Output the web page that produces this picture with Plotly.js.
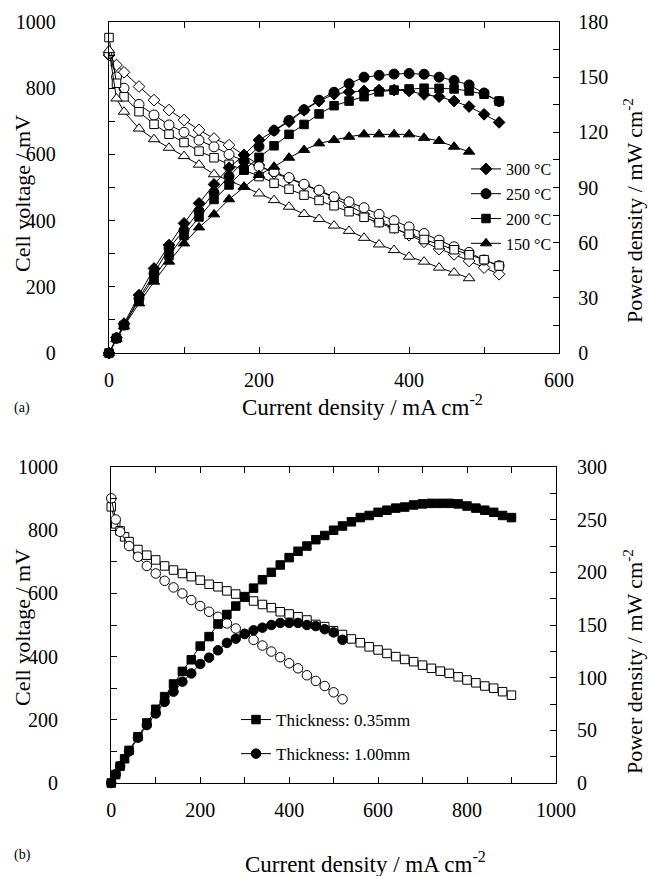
<!DOCTYPE html>
<html>
<head>
<meta charset="utf-8">
<script src="https://cdn.plot.ly/plotly-3.0.1.min.js"></script>
<style>html,body{margin:0;padding:0;background:#fff;}#chart{width:648px;height:876px;}</style>
</head>
<body>
<div id="chart"></div>
<script>
// ---------- Panel (a): temperature series ----------
const I_top = [0,10,20,40,60,80,100,120,140,160,180,200,220,240,260,280,300,320,340,360,380,400,420,440,460,480,500,520];
const I_150 = [0,10,20,40,60,80,100,120,140,160,180,200,220,240,260,280,300,320,340,360,380,400,420,440,460,480];

const V_300 = [900,870,848,805,764,734,704,674,648,628,598,568,543,528,508,490,469,445,419,397,379,356,336,314,298,278,258,238];
const P_300 = [0,8.3,16,31.5,46,58.7,70.5,81.4,91.7,100.8,107.7,115.8,121,125.8,132,137,140.7,142,142.5,143,143,142.5,140.6,139.4,137,134,129.8,125.4];

const V_250 = [905,834,800,751,719,689,667,643,623,600,580,563,548,530,510,492,472,457,439,419,400,381,361,341,321,304,281,264];
const P_250 = [0,8,15.2,29.7,43.3,57,66.7,77.2,87.2,96,104.5,112.3,121,126.5,132.3,137.5,141.8,146.4,150,151,151.7,152,151.6,150,148.2,145.8,141.4,136.8];

const V_200 = [953,815,774,729,691,661,636,610,590,570,553,533,513,495,477,461,445,427,410,394,376,359,343,327,312,297,282,263];
const P_200 = [0,8,15,28.8,41,53,64,74,83.5,91.4,99.5,106.4,112.7,118.9,124.3,130,134.5,137,139.4,142,143,143.6,144,143.9,143.6,142.5,140.7,137];

const V_150 = [915,769,729,678,646,620,595,569,540,522,502,482,462,442,420,405,385,369,348,328,311,291,276,258,243,226];
const P_150 = [0,7.7,14.6,27,38.8,49.7,59.6,68.3,75.4,83.6,90.4,96.8,101.3,106.2,110.4,114,115.8,117.6,118.9,118.9,118.9,118.9,117,115.3,112.2,109.5];

const temp_labels = ["300 °C","250 °C","200 °C","150 °C"];

// ---------- Panel (b): thickness series ----------
const I_035 = [0,10,20,30,40,60,80,100,120,140,160,180,200,220,240,260,280,300,320,340,360,380,400,420,440,460,480,500,520,540,560,580,600,620,640,660,680,700,720,740,760,780,800,820,840,860,880,900];
const V_035 = [874,820,798,779,764,739,721,706,687,674,663,653,642,629,621,608,598,588,576,565,555,542,535,526,516,502,495,482,470,456,444,431,421,410,400,391,384,373,363,354,347,336,326,317,307,300,289,278];
const P_035 = [0,8,16,23,31,44,57,70,82,94,106,117,130,139,151,160,168,177,185,193,200,207,214,220,225,231,235,240,244,248,252,254,257,259,261,262,264,265,265.5,265.5,265.5,265,263,261,259,257,254,252];

const I_100 = [0,10,20,40,60,80,100,120,140,160,180,200,220,240,260,280,300,320,340,360,380,400,420,440,460,480,500,520];
const V_100 = [901,834,795,750,716,687,663,640,619,600,579,560,542,526,505,489,472,453,435,416,398,379,363,341,323,307,287,265];
const P_100 = [0,8.3,16,30,43,55,66,77,86.7,96.2,104,113,119,126,133,137,141.5,145,147.5,150,152,152,152,150,149,146,143,136];

const thick_labels = ["Thickness: 0.35mm","Thickness: 1.00mm"];

const x_title = 'Current density / mA cm<sup>-2</sup>';
const yl_title = 'Cell voltage / mV';
const yr_title = 'Power density / mW cm<sup>-2</sup>';

// ---------- build traces ----------
function tr(x, y, symbol, size, filled, xa, ya, name, legend, showlegend) {
  return {
    type: 'scatter', mode: 'lines+markers', x: x, y: y,
    xaxis: xa, yaxis: ya, name: name, legend: legend,
    showlegend: showlegend, legendgroup: name,
    cliponaxis: false,
    line: {color: '#000', width: 1},
    marker: {symbol: symbol, size: size, color: filled ? '#000' : '#fff',
             line: {color: '#000', width: 1}}
  };
}

const traces = [
  tr(I_top, V_300, 'diamond', 9, false, 'x', 'y', 'v300', 'legend', false),
  tr(I_top, V_250, 'circle', 10, false, 'x', 'y', 'v250', 'legend', false),
  tr(I_top, V_200, 'square', 8.5, false, 'x', 'y', 'v200', 'legend', false),
  tr(I_150, V_150, 'triangle-up', 10, false, 'x', 'y', 'v150', 'legend', false),
  tr(I_top, P_300, 'diamond', 9, true, 'x', 'y2', temp_labels[0], 'legend', true),
  tr(I_top, P_250, 'circle', 10, true, 'x', 'y2', temp_labels[1], 'legend', true),
  tr(I_top, P_200, 'square', 8.5, true, 'x', 'y2', temp_labels[2], 'legend', true),
  tr(I_150, P_150, 'triangle-up', 10, true, 'x', 'y2', temp_labels[3], 'legend', true),
  tr(I_035, V_035, 'square', 8.5, false, 'x2', 'y3', 'v035', 'legend2', false),
  tr(I_100, V_100, 'circle', 9.5, false, 'x2', 'y3', 'v100', 'legend2', false),
  tr(I_035, P_035, 'square', 8.5, true, 'x2', 'y4', thick_labels[0], 'legend2', true),
  tr(I_100, P_100, 'circle', 9.5, true, 'x2', 'y4', thick_labels[1], 'legend2', true)
];

const FONT = '"Liberation Serif", "Times New Roman", Times, serif';
const tickfont = {family: FONT, size: 20, color: '#000'};

function axBase(extra) {
  return Object.assign({
    showgrid: false, zeroline: false, showline: true, linecolor: '#000', linewidth: 1.3,
    ticks: 'inside', ticklen: 6, tickwidth: 1.2, tickcolor: '#000',
    tickfont: tickfont, fixedrange: true
  }, extra);
}

const W = 451, H = 761, L = 109, B = 783;
function px(xp) { return (xp - L) / W; }
function py(yp) { return (B - yp) / H; }

function ann(text, xp, yp, size, angle) {
  return {text: text, x: px(xp), y: py(yp), xref: 'paper', yref: 'paper', textangle: angle || 0,
    showarrow: false, xanchor: 'center', yanchor: 'middle',
    font: {family: FONT, size: size, color: '#000'}};
}

const layout = {
  width: 648, height: 876,
  margin: {l: 109, r: 88, t: 22, b: 93, pad: 0},
  paper_bgcolor: '#fff', plot_bgcolor: '#fff',
  font: {family: FONT, color: '#000', size: 16},
  xaxis: axBase({domain: [0, 0.998], range: [0, 600], dtick: 200, anchor: 'y', mirror: 'ticks',
    minor: {dtick: 100, ticks: 'inside', ticklen: 6, tickcolor: '#000'}, ticklabelstandoff: 9}),
  yaxis: axBase({domain: [0.565, 1], range: [0, 1000], dtick: 200, anchor: 'x',
    minor: {dtick: 100, ticks: 'inside', ticklen: 6, tickcolor: '#000'}, ticklabelstandoff: 48}),
  yaxis2: axBase({domain: [0.565, 1], range: [0, 180], dtick: 30, anchor: 'x', overlaying: 'y', side: 'right',
    minor: {dtick: 15, ticks: 'inside', ticklen: 6, tickcolor: '#000'}, ticklabelstandoff: 14}),
  xaxis2: axBase({domain: [0.005, 0.991], range: [0, 1000], dtick: 200, anchor: 'y3', mirror: 'ticks',
    minor: {dtick: 100, ticks: 'inside', ticklen: 6, tickcolor: '#000'}, ticklabelstandoff: 9}),
  yaxis3: axBase({domain: [0, 0.4152], range: [0, 1000], dtick: 200, anchor: 'x2',
    minor: {dtick: 100, ticks: 'inside', ticklen: 6, tickcolor: '#000'}, ticklabelstandoff: 48}),
  yaxis4: axBase({domain: [0, 0.4152], range: [0, 300], dtick: 50, anchor: 'x2', overlaying: 'y3', side: 'right',
    minor: {dtick: 25, ticks: 'inside', ticklen: 6, tickcolor: '#000'}, ticklabelstandoff: 16}),
  legend: {x: px(466), y: py(152), xanchor: 'left', yanchor: 'top', bgcolor: 'rgba(0,0,0,0)',
    font: {family: FONT, size: 16, color: '#000'}, tracegroupgap: 1, traceorder: 'grouped'},
  legend2: {x: px(236), y: py(702), xanchor: 'left', yanchor: 'top', bgcolor: 'rgba(0,0,0,0)',
    font: {family: FONT, size: 17, color: '#000'}, tracegroupgap: 9, traceorder: 'grouped'},
  annotations: [
    ann(yl_title, 22, 194, 22, -90),
    ann(yl_title, 22, 628, 22, -90),
    ann(yr_title, 633, 211, 22, -90),
    ann(yr_title, 633, 662, 22, -90),
    ann(x_title, 362, 405, 23, 0),
    ann(x_title, 365, 862, 23, 0),
    ann('(a)', 22, 408, 14, 0),
    ann('(b)', 22, 855, 14, 0)
  ]
};

Plotly.newPlot('chart', traces, layout, {displayModeBar: false});
</script>
</body>
</html>
